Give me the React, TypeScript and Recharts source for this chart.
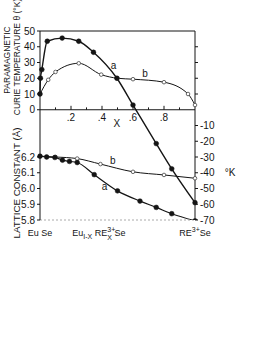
import { ComposedChart, Line, XAxis, YAxis, ReferenceLine, ReferenceDot, Label } from "recharts";

// Curie temperature (°K) vs composition X
const curveAX = [0, 0.003, 0.012, 0.047, 0.143, 0.25, 0.345, 0.496, 0.6, 0.75, 0.85, 1];
const curveAT = [10, 20, 25.5, 43.5, 45.5, 43.5, 36.5, 20, 3, -21.5, -37.5, -59];
const curveBX = [0, 0.053, 0.1, 0.25, 0.395, 0.5, 0.6, 0.8, 0.955, 1];
const curveBT = [10, 19, 24, 29.5, 22.3, 20, 19.4, 17.5, 10, 3];

// lattice constant (Å) vs composition X
const latticeAX = [0, 0.043, 0.096, 0.145, 0.19, 0.24, 0.35, 0.5, 0.645, 0.75, 0.85, 1];
const latticeAL = [6.205, 6.2, 6.197, 6.18, 6.172, 6.165, 6.088, 5.985, 5.92, 5.88, 5.84, 5.795];
const latticeBX = [0, 0.1, 0.24, 0.39, 0.6, 0.8, 1];
const latticeBL = [6.205, 6.2, 6.19, 6.155, 6.106, 6.086, 6.065];

const tempTicksLeft = [0, 10, 20, 30, 40, 50];
const tempTicksRight = [-70, -60, -50, -40, -30, -20, -10, 10, 20, 30, 40];
const latticeTicks = [5.8, 5.9, 6.0, 6.1, 6.2];
const xMinorTicks = [0.1, 0.2, 0.3, 0.4, 0.5, 0.6, 0.7, 0.8, 0.9];
const xLabelTicks = [0.2, 0.4, 0.6, 0.8];
const compositionTicks = [0, 0.38, 1];

// the two left scales share the frame: 6.5 Å sits on the 0 °K line, 0.1 Å per 10 °K
const TEMP_DOMAIN = [-70, 50];
const LATTICE_AT_ZERO = 6.5;
const LATTICE_PER_K = 0.01;
const latticeDomain = TEMP_DOMAIN.map((t) => LATTICE_AT_ZERO + t * LATTICE_PER_K);
const leftTicks = [...latticeTicks.map((l) => Math.round((l - LATTICE_AT_ZERO) / LATTICE_PER_K)), ...tempTicksLeft];
const leftFormat = (v: number) => (v >= 0 ? String(v) : (LATTICE_AT_ZERO + v * LATTICE_PER_K).toFixed(1));

const toPoints = (xs: number[], ys: number[]) => xs.map((x, i) => ({ x, v: ys[i] }));

const INK = "#151515";
const FONT = "'Liberation Sans Narrow', 'Liberation Sans', Arial, sans-serif";
const tickText = { fontSize: 10, fill: INK, fontFamily: FONT };

const filledDot = { r: 2.4, fill: INK, stroke: INK, strokeWidth: 0.5 };
const openDot = { r: 1.8, fill: "#fff", stroke: "#444", strokeWidth: 0.8 };

function CompositionTick(props: any) {
  const { x, y, index } = props;
  const common = { x, y: y + 8, fontSize: 9, fill: INK, fontFamily: FONT, textAnchor: "middle" as const };
  if (index === 0) return <text {...common}>Eu Se</text>;
  if (index === 1)
    return (
      <text {...common}>
        <tspan>Eu</tspan>
        <tspan dy={3} fontSize={7}>I-X</tspan>
        <tspan dy={-3}> RE</tspan>
        <tspan dy={-4} fontSize={7}>3+</tspan>
        <tspan dy={8} dx={-8} fontSize={7}>X</tspan>
        <tspan dy={-4}> Se</tspan>
      </text>
    );
  return (
    <text {...common}>
      <tspan>RE</tspan>
      <tspan dy={-4} fontSize={7}>3+</tspan>
      <tspan dy={4}>Se</tspan>
    </text>
  );
}

function AxisTitles() {
  const t = { fill: INK, fontFamily: FONT, textAnchor: "middle" as const };
  return (
    <g>
      <text {...t} fontSize={8.5} x={10} y={60} transform="rotate(-90 10 60)">
        PARAMAGNETIC
      </text>
      <text {...t} fontSize={8.5} x={20} y={57} transform="rotate(-90 20 57)">
        CURIE TEMPERATURE θ (°K)
      </text>
      <text {...t} fontSize={9.8} x={20} y={183} transform="rotate(-90 20 183)">
        LATTICE CONSTANT (Å)
      </text>
    </g>
  );
}

export default function App() {
  return (
    <div style={{ position: "absolute", left: 0, top: 0, width: 273, height: 353, background: "#fff" }}>
      <ComposedChart width={273} height={353} margin={{ top: 31, right: 0, left: 0, bottom: 103 }}>
        <XAxis
          type="number"
          dataKey="x"
          domain={[0, 1]}
          ticks={compositionTicks}
          tick={<CompositionTick />}
          tickLine={false}
          axisLine={{ stroke: "#aaa", strokeDasharray: "2 2" }}
          height={30}
          allowDuplicatedCategory={false}
        />
        <YAxis
          yAxisId="t"
          orientation="left"
          width={40}
          type="number"
          domain={TEMP_DOMAIN}
          ticks={leftTicks}
          interval={0}
          tickFormatter={leftFormat}
          tick={tickText}
          tickSize={3}
          tickLine={{ stroke: INK }}
          axisLine={{ stroke: INK }}
          allowDataOverflow
        >
          <Label content={<AxisTitles />} />
        </YAxis>
        <YAxis yAxisId="l" hide width={0} type="number" domain={latticeDomain} allowDataOverflow />
        <YAxis
          yAxisId="r"
          orientation="right"
          width={78}
          type="number"
          domain={TEMP_DOMAIN}
          ticks={tempTicksRight}
          interval={0}
          tickFormatter={(v: number) => (v < 0 ? String(v) : "")}
          tick={tickText}
          tickSize={3}
          tickLine={{ stroke: INK }}
          axisLine={{ stroke: INK }}
          allowDataOverflow
        >
          <Label value="°K" position="center" dx={-4} dy={47} style={{ fontSize: 10, fill: INK, fontFamily: FONT }} />
        </YAxis>

        <ReferenceLine yAxisId="t" y={50} stroke={INK} strokeWidth={1} />
        <ReferenceLine yAxisId="t" y={0} stroke={INK} strokeWidth={1} />
        {xMinorTicks.map((v) => (
          <ReferenceLine
            key={v}
            yAxisId="t"
            segment={[{ x: v, y: 0 }, { x: v, y: xLabelTicks.includes(v) ? 2.5 : 1.5 }]}
            stroke={INK}
            label={
              xLabelTicks.includes(v)
                ? { value: v.toFixed(1).replace("0.", "."), position: "bottom", offset: 4, style: tickText }
                : undefined
            }
          />
        ))}
        <ReferenceDot yAxisId="t" x={0.496} y={-8.5} r={0} label={{ value: "X", position: "center", style: tickText }} />

        <Line
          yAxisId="t"
          data={toPoints(curveBX, curveBT)}
          dataKey="v"
          type="monotone"
          stroke={INK}
          strokeWidth={1}
          dot={openDot}
          isAnimationActive={false}
        />
        <Line
          yAxisId="t"
          data={toPoints(curveAX, curveAT)}
          dataKey="v"
          type="monotone"
          stroke={INK}
          strokeWidth={1.4}
          dot={filledDot}
          isAnimationActive={false}
        />
        <Line
          yAxisId="l"
          data={toPoints(latticeBX, latticeBL)}
          dataKey="v"
          type="monotone"
          stroke={INK}
          strokeWidth={1}
          dot={openDot}
          isAnimationActive={false}
        />
        <Line
          yAxisId="l"
          data={toPoints(latticeAX, latticeAL)}
          dataKey="v"
          type="monotone"
          stroke={INK}
          strokeWidth={1.2}
          dot={filledDot}
          isAnimationActive={false}
        />

        <ReferenceDot yAxisId="t" x={0.474} y={28} r={0} label={{ value: "a", position: "center", style: tickText }} />
        <ReferenceDot yAxisId="t" x={0.678} y={23} r={0} label={{ value: "b", position: "center", style: tickText }} />
        <ReferenceDot yAxisId="l" x={0.47} y={6.177} r={0} label={{ value: "b", position: "center", style: tickText }} />
        <ReferenceDot yAxisId="l" x={0.417} y={6.012} r={0} label={{ value: "a", position: "center", style: tickText }} />
      </ComposedChart>
    </div>
  );
}
